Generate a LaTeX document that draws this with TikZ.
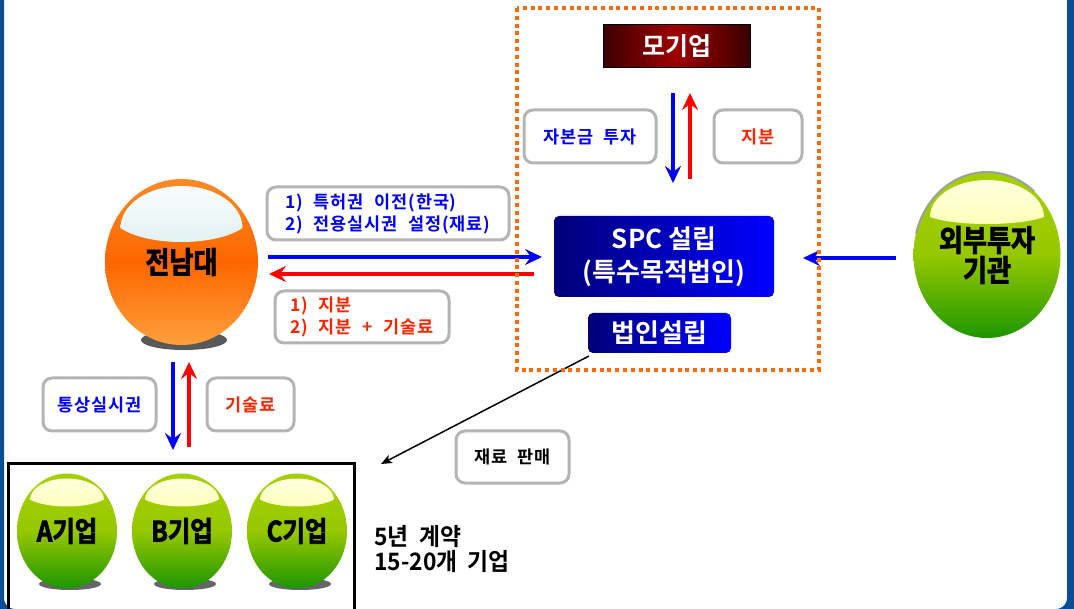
\documentclass[tikz,border=0pt]{standalone}
\usepackage{fontspec}
\setmainfont{Noto Sans CJK KR}
\newfontfamily\ballfont[FakeStretch=0.87,FakeBold=2.5]{Noto Sans CJK KR Bold}
\newfontfamily\boxfont{Noto Sans CJK KR Bold}
\newfontfamily\dealfont[FakeStretch=0.95,WordSpace=2]{Noto Sans CJK KR Bold}
\newfontfamily\tagfont[LetterSpace=5,WordSpace=2.2]{Noto Sans CJK KR Bold}
\usetikzlibrary{shapes.geometric,arrows.meta}

\definecolor{framblue}{RGB}{10,76,150}
\definecolor{dotorange}{RGB}{255,106,16}
\definecolor{tagline}{RGB}{180,180,180}
\definecolor{arrblue}{RGB}{0,0,255}
\definecolor{arrred}{RGB}{255,0,0}
\definecolor{txtred}{RGB}{255,36,0}
\definecolor{navyleft}{RGB}{0,0,120}
\definecolor{redbright}{RGB}{160,0,0}
\definecolor{reddark}{RGB}{58,0,0}
\definecolor{orgtop}{RGB}{248,138,40}
\definecolor{orgmid}{RGB}{255,102,0}
\definecolor{orgbot}{RGB}{255,160,60}
\definecolor{capwhite}{RGB}{252,254,254}
\definecolor{capcyan}{RGB}{184,222,224}
\definecolor{grntop}{RGB}{165,208,0}
\definecolor{grnmid}{RGB}{150,200,0}
\definecolor{grnbot}{RGB}{28,150,0}
\definecolor{capcream}{RGB}{255,255,230}
\definecolor{capyellow}{RGB}{255,255,90}

\tikzset{
  every node/.style={outer sep=0pt},
  ball/.style={ellipse, inner sep=0pt, align=center, font=\ballfont\fontsize{30}{30}\selectfont},
  orangeball/.style={ball, top color=orgtop, bottom color=orgbot, middle color=orgmid},
  greenball/.style={ball, top color=grntop, bottom color=grnbot, middle color=grnmid},
  % highlight cap: half width, side drop, arch height, bottom drop, shading
  shine/.style n args={5}{path picture={
    \shade[#5] ([xshift=-#1pt,yshift=-#2pt]path picture bounding box.north)
      arc[start angle=180, end angle=0, x radius=#1, y radius=#3]
      .. controls +({-0.45*#1},{-4/3*(#4-#2)}) and +({0.45*#1},{-4/3*(#4-#2)})
      .. ([xshift=-#1pt,yshift=-#2pt]path picture bounding box.north);}},
  orangeshine/.style={top color=capwhite, bottom color=capcyan},
  greenshine/.style={top color=capcream, bottom color=capyellow},
  tagbox/.style={draw=tagline, line width=3pt, rounded corners=9pt, fill=white,
    inner sep=0pt, font=\tagfont\fontsize{17.5}{22}\selectfont},
  bluebox/.style={left color=navyleft, right color=arrblue, rounded corners=5pt,
    text=white, inner sep=0pt, font=\boxfont\fontsize{26}{33}\selectfont, align=center},
  redbox/.style={draw=black, line width=1pt, left color=reddark, right color=reddark,
    middle color=redbright, text=white, inner sep=0pt, font=\boxfont\fontsize{25}{25}\selectfont},
  bluearr/.style={draw=arrblue, line width=3.5pt, -{Stealth[length=17pt,width=16pt,inset=6pt]}},
  redarr/.style={draw=arrred, line width=3.5pt, -{Stealth[length=17pt,width=16pt,inset=6pt]}},
  sellarr/.style={draw=black, line width=1.5pt, -{Stealth[length=11pt,width=9pt,inset=3pt]}},
  dotframe/.style={draw=dotorange, line width=3.5pt, dash pattern=on 4pt off 3.8pt}
}

\begin{document}
\begin{tikzpicture}[x=1pt, y=1pt]
\useasboundingbox (0,0) rectangle (1074,-609);
\clip (0,0) rectangle (1074,-609);

% outer frame
\draw[framblue, line width=10pt, rounded corners=16pt] (-1,30) rectangle (1072,-614);

% university
\fill[black!65] (184,-340) ellipse[x radius=43, y radius=10];
\node[orangeball, shine={61}{49}{42}{63}{orangeshine},
  minimum width=153pt, minimum height=166pt] (cnu) at (181.5,-262) {전남대};

% outside investor
\node[greenball, shine={57}{45}{37}{52}{greenshine},
  minimum width=147pt, minimum height=166pt] (vc) at (987,-255) {외부투자\\기관};
\draw[gray!75, line width=2pt] ([shift={(165:73.5 and 83)}]vc.center)
  arc[start angle=165, end angle=50, x radius=73.5, y radius=83];

% SPC side
\node[redbox, minimum width=147pt, minimum height=43pt] (mother) at (676.5,-46.5) {모기업};
\node[bluebox, minimum width=220pt, minimum height=81pt] (spc) at (664,-256.5) {SPC 설립\\(특수목적법인)};
\node[bluebox, minimum width=143pt, minimum height=40pt] (found) at (659.5,-333) {법인설립};

\node[tagbox, text=arrblue, minimum width=132pt, minimum height=53pt] (capital) at (590,-136.5) {자본금 투자};
\node[tagbox, text=txtred, minimum width=88pt, minimum height=53pt] (stake) at (758,-136.5) {지분};

% between university and SPC
\node[tagbox, text=arrblue, align=left, minimum width=242pt, minimum height=53pt] (transfer) at (388,-213.5)
  {1) 특허권 이전(한국)\\2) 전용실시권 설정(재료)};
\node[tagbox, text=txtred, align=left, minimum width=174pt, minimum height=52pt] (returns) at (362,-317)
  {1) 지분\\2) 지분 + 기술료};

% licensees
\node[tagbox, text=arrblue, minimum width=113pt, minimum height=53pt] (license) at (99.5,-404.5) {통상실시권};
\node[tagbox, text=txtred, minimum width=87pt, minimum height=53pt] (royalty) at (250.5,-404.5) {기술료};
\node[tagbox, text=black, minimum width=113pt, minimum height=52pt] (sales) at (512.5,-457) {재료 판매};

\node[draw=black, line width=3pt, minimum width=346pt, minimum height=180pt, anchor=north] (firms) at (181,-464) {};
\foreach \x/\n in {67/A, 182/B, 297/C} {
  \fill[black!60] (\x+3,-584) ellipse[x radius=31, y radius=6];
  \node[greenball, shine={37}{26}{21}{33}{greenshine}, font=\ballfont\fontsize{28}{28}\selectfont,
    minimum width=100pt, minimum height=115pt] (firm\n) at (\x,-531) {{\n}기업};
}
\node[anchor=west, align=left, font=\dealfont\fontsize{24}{25}\selectfont] (deal) at (371,-549)
  {5년 계약\\15-20개 기업};

% flows
\draw[bluearr] ([xshift=10pt,yshift=5pt]cnu.east) -- ([xshift=-12pt,yshift=-0.5pt]spc.west);
\draw[redarr] ([xshift=-20pt,yshift=-17.5pt]spc.west) -- ([xshift=11pt,yshift=-12pt]cnu.east);
\draw[bluearr] ([xshift=-3.5pt,yshift=-25pt]mother.south) -- ([xshift=9pt,yshift=33pt]spc.north);
\draw[redarr] ([xshift=26pt,yshift=37pt]spc.north) -- ([xshift=13.5pt,yshift=-25pt]mother.south);
\draw[bluearr] ([xshift=-17.5pt,yshift=-3pt]vc.west) -- ([xshift=29pt,yshift=-1.5pt]spc.east);
\draw[bluearr] ([xshift=-8.5pt,yshift=-17pt]cnu.south) -- ([xshift=-8pt,yshift=14pt]firms.north);
\draw[redarr] ([xshift=8pt,yshift=17pt]firms.north) -- ([xshift=7.5pt,yshift=-17pt]cnu.south);
\draw[sellarr] ([xshift=1pt,yshift=-3pt]found.south west) -- ([xshift=27pt]firms.north east);

% SPC boundary
\draw[dotframe] (517,-8) rectangle (819,-370);
\end{tikzpicture}
\end{document}
